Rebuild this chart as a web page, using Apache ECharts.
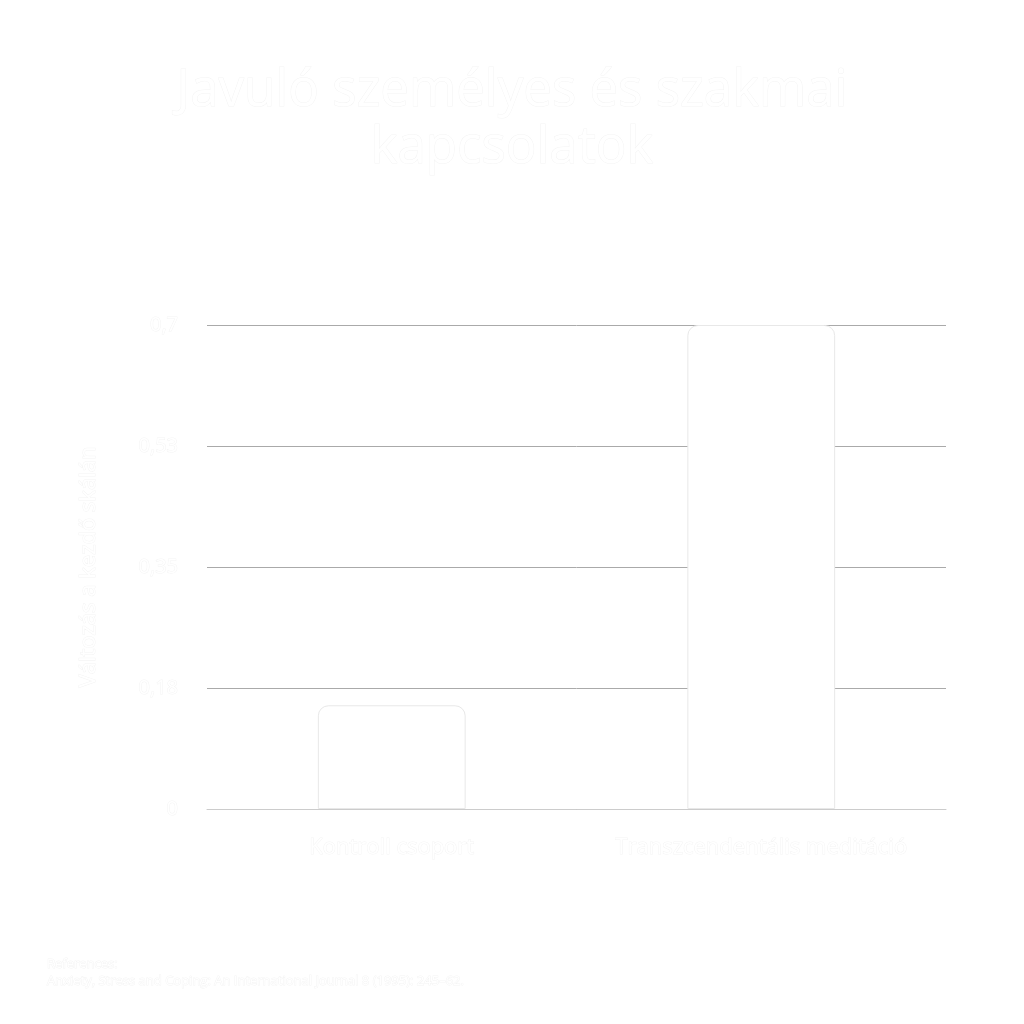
<!DOCTYPE html>
<html>
<head>
<meta charset="utf-8">
<script src="https://cdn.jsdelivr.net/npm/echarts@6/dist/echarts.min.js"></script>
<style>
html,body{margin:0;padding:0;background:#ffffff;}
#chart{width:1024px;height:1024px;}
</style>
</head>
<body>
<div id="chart"></div>
<script>
var categories = ['Kontroll csoport', 'Transzcendentális meditáció'];
var values = [0.15, 0.70];
var tickLabels = ['0', '0,18', '0,35', '0,53', '0,7'];
var titleText = 'Javuló személyes és szakmai\nkapcsolatok';
var yAxisName = 'Változás a kezdő skálán';
var footnote = 'References:\nAnxiety, Stress and Coping: An International Journal 8 (1995): 245–62.';

var faint = {textBorderColor: 'rgba(0,0,0,0.05)', textBorderWidth: 1};

var chart = echarts.init(document.getElementById('chart'));
chart.setOption({
  backgroundColor: '#ffffff',
  animation: false,
  title: [{
    text: titleText,
    left: 'center',
    top: 58,
    textStyle: Object.assign({color: '#ffffff', fontSize: 51, fontWeight: 'normal', fontFamily: 'Open Sans', lineHeight: 57}, faint)
  }, {
    text: footnote,
    left: 42,
    top: 951,
    textStyle: Object.assign({color: '#ffffff', fontSize: 13, fontWeight: 'normal', fontFamily: 'Open Sans', lineHeight: 17}, faint)
  }],
  grid: {left: 207, right: 78, top: 325, bottom: 215},
  xAxis: {
    type: 'category',
    data: categories,
    axisTick: {show: false},
    axisLine: {show: true, lineStyle: {color: '#cccccc'}},
    axisLabel: Object.assign({color: '#ffffff', fontSize: 22, fontFamily: 'Open Sans', margin: 28, interval: 0, hideOverlap: false}, faint)
  },
  yAxis: {
    type: 'value',
    min: 0,
    max: 0.7,
    interval: 0.175,
    name: yAxisName,
    nameLocation: 'middle',
    nameGap: 107,
    nameTextStyle: Object.assign({color: '#ffffff', fontSize: 22, fontFamily: 'Open Sans'}, faint),
    axisLine: {show: false},
    axisTick: {show: false},
    splitLine: {lineStyle: {color: '#aaaaaa'}},
    axisLabel: Object.assign({
      color: '#ffffff', fontSize: 20, fontFamily: 'Open Sans', margin: 29,
      formatter: function (v) { return tickLabels[Math.round(v / 0.175)]; }
    }, faint)
  },
  series: [{
    type: 'bar',
    data: values,
    barWidth: '40%',
    itemStyle: {color: '#ffffff', borderColor: '#e8e8e8', borderWidth: 1, borderRadius: [10, 10, 0, 0]}
  }]
});
</script>
</body>
</html>
